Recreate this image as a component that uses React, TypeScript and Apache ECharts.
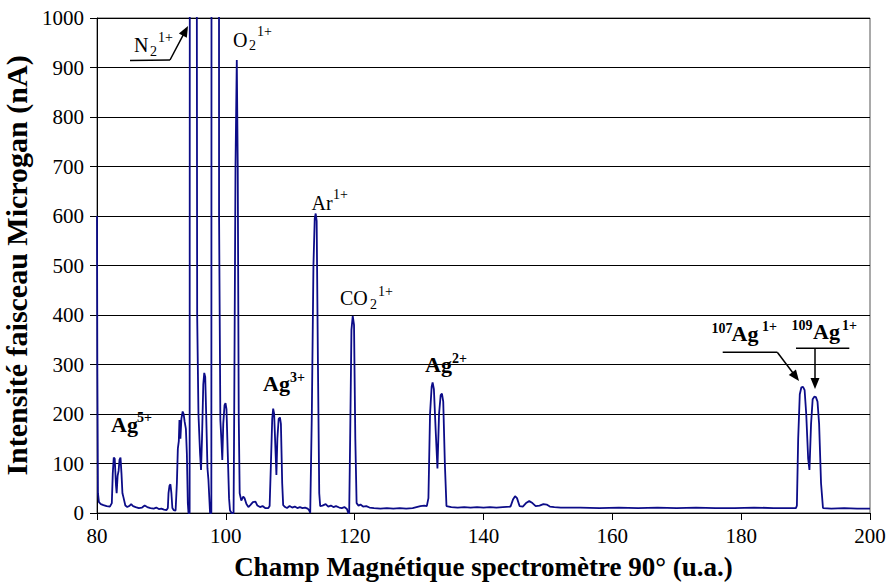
import React, { useEffect, useRef } from 'react';
import * as echarts from 'echarts';

// Spectrum segments: [field (u.a.), intensity (nA)]
const startAndAg5: number[][] = [
  [80.0, 600], [80.05, 300], [80.15, 40], [80.3, 22], [80.6, 18], [81.0, 16], [81.5, 14], [82.0, 13],
  [82.3, 20], [82.45, 80], [82.6, 112], [82.75, 110], [82.95, 55], [83.05, 40], [83.2, 75], [83.35, 85],
  [83.5, 108], [83.65, 112], [83.8, 80], [83.95, 40], [84.1, 32], [84.4, 15], [84.7, 12], [85.0, 14],
  [85.3, 18], [85.6, 14], [86.0, 12], [86.5, 10], [87.0, 11], [87.4, 15], [87.8, 12], [88.3, 10],
  [88.8, 9], [89.2, 11], [89.6, 8], [90.0, 9], [90.4, 7], [90.8, 6],
];
const beforeN2: number[][] = [
  [91.0, 10], [91.1, 40], [91.25, 55], [91.4, 58], [91.55, 40], [91.7, 10], [91.9, 6], [92.2, 5],
  [92.4, 60], [92.55, 130], [92.7, 145], [92.8, 188], [92.95, 150], [93.1, 190], [93.3, 205], [93.45, 200],
  [93.6, 185], [93.8, 170], [93.95, 120], [94.1, 20], [94.2, 0], [94.38, 0],
];
const n2Peaks: number[][] = [
  [94.45, 3000], [95.45, 3000], [95.5, 1000], [95.55, 400], [95.75, 200], [96.0, 120], [96.15, 87],
  [96.3, 150], [96.5, 260], [96.65, 283], [96.8, 275], [96.95, 200], [97.15, 90], [97.3, 67], [97.4, 40],
  [97.55, 0], [97.75, 0], [97.82, 3000], [98.9, 3000], [98.95, 600], [99.15, 188], [99.3, 150],
  [99.45, 107], [99.6, 180], [99.8, 218], [99.95, 222], [100.1, 210], [100.3, 120], [100.5, 30],
  [100.65, 5], [100.9, 0], [101.2, 0],
];
const o2Peak: number[][] = [
  [101.3, 200], [101.5, 700], [101.7, 915], [101.85, 700], [102.0, 200], [102.15, 40], [102.4, 25],
  [102.7, 33], [102.9, 30], [103.2, 18], [103.5, 12], [103.8, 16], [104.2, 22], [104.6, 23], [104.9, 15],
  [105.3, 12], [105.7, 14], [106.1, 10], [106.6, 10], [106.8, 14],
];
const ag3Peaks: number[][] = [
  [107.0, 100], [107.2, 190], [107.35, 211], [107.5, 200], [107.7, 130], [107.85, 77], [108.0, 150],
  [108.2, 190], [108.4, 193], [108.55, 180], [108.75, 60], [108.9, 16], [109.2, 12], [109.5, 10],
  [109.9, 14], [110.3, 11], [110.7, 13], [111.1, 10], [111.5, 12], [111.9, 10], [112.3, 11], [112.7, 9],
  [112.95, 5], [113.1, 0],
];
const arPeak: number[][] = [
  [113.35, 200], [113.6, 500], [113.8, 595], [113.95, 605], [114.1, 590], [114.3, 300], [114.5, 40],
  [114.65, 14], [115.0, 15], [115.5, 18], [115.9, 13], [116.3, 15], [116.7, 12], [117.1, 14], [117.6, 11],
  [118.0, 10], [118.4, 12], [118.8, 8], [119.0, 0], [119.15, 0],
];
const co2Peak: number[][] = [
  [119.3, 150], [119.5, 370], [119.7, 398], [119.9, 380], [120.1, 150], [120.3, 20], [120.6, 15],
  [120.9, 17], [121.3, 13], [121.8, 14], [122.3, 11], [123, 10], [124, 9], [125, 10], [126, 9], [127, 10],
  [128, 9], [129, 10], [130.2, 14], [130.8, 15], [131.2, 14],
];
const ag2Peaks: number[][] = [
  [131.45, 30], [131.7, 200], [131.95, 255], [132.1, 264], [132.3, 250], [132.6, 160], [132.85, 90],
  [133.1, 200], [133.35, 238], [133.55, 241], [133.75, 225], [134.0, 100], [134.25, 14], [135, 12],
  [136, 11], [137, 12], [138, 11], [139, 12], [140, 11], [141, 12], [142, 11], [143, 12], [144.2, 13],
  [144.6, 28], [144.9, 34], [145.2, 30], [145.6, 14], [146.1, 13], [146.6, 20], [147.1, 24], [147.6, 20],
  [148.1, 14], [148.7, 15], [149.3, 18], [149.8, 17], [150.3, 13], [151, 12], [152, 11], [155, 11],
  [158, 10], [161, 11], [164, 10], [167, 11], [170, 10], [173, 11], [176, 10], [179, 10], [182, 11],
  [185, 10], [188.5, 10],
];
const ag1Peaks: number[][] = [
  [188.65, 15], [188.85, 150], [189.1, 240], [189.35, 254], [189.6, 255], [189.85, 248], [190.1, 200],
  [190.4, 110], [190.6, 87], [190.85, 180], [191.1, 230], [191.35, 235], [191.6, 234], [191.85, 225],
  [192.1, 180], [192.4, 60], [192.7, 10], [194, 9], [196, 10], [198, 9], [200, 9],
];

const spectrum = [
  ...startAndAg5, ...beforeN2, ...n2Peaks, ...o2Peak, ...ag3Peaks, ...arPeak, ...co2Peak, ...ag2Peaks, ...ag1Peaks,
];

const FONT = 'Liberation Serif';

function txt(text: string, x: number, y: number, size: number, bold = false) {
  return {
    type: 'text',
    z: 100,
    style: {
      text,
      x,
      y,
      font: `${bold ? 'bold ' : ''}${size}px ${FONT}`,
      fill: '#000',
      align: 'left',
      verticalAlign: 'middle',
      textAlign: 'left',
      textVerticalAlign: 'middle',
    },
  };
}

function seg(x1: number, y1: number, x2: number, y2: number) {
  return {
    type: 'line',
    z: 100,
    shape: { x1, y1, x2, y2 },
    style: { stroke: '#000', lineWidth: 1.5 },
  };
}

function arrow(x1: number, y1: number, x2: number, y2: number) {
  const dx = x2 - x1;
  const dy = y2 - y1;
  const len = Math.sqrt(dx * dx + dy * dy);
  const ux = dx / len;
  const uy = dy / len;
  const hl = 11;
  const hw = 4.5;
  const bx = x2 - ux * hl;
  const by = y2 - uy * hl;
  return [
    seg(x1, y1, bx + ux * 2, by + uy * 2),
    {
      type: 'polygon',
      z: 100,
      shape: {
        points: [
          [x2, y2],
          [bx - uy * hw, by + ux * hw],
          [bx + uy * hw, by - ux * hw],
        ],
      },
      style: { fill: '#000' },
    },
  ];
}

export default function App() {
  const ref = useRef<HTMLDivElement>(null);
  useEffect(() => {
    if (!ref.current) return;
    const chart = echarts.init(ref.current, null, { renderer: 'svg' });
    const graphics: any[] = [
      txt('N', 134, 45, 20), txt('2', 150, 51, 14), txt('1+', 158, 37.5, 14),
      seg(130, 60.5, 170, 60), ...arrow(170, 60, 188, 26),
      txt('O', 233, 39.5, 20), txt('2', 249, 45, 14), txt('1+', 257, 31, 14),
      txt('Ar', 311.5, 202.5, 20), txt('1+', 333, 194, 14),
      txt('CO', 340, 298, 20), txt('2', 370, 304, 14), txt('1+', 378, 291, 14),
      txt('Ag', 263, 383, 22, true), txt('3+', 290, 377, 14, true),
      txt('Ag', 425, 364, 22, true), txt('2+', 452, 358, 14, true),
      txt('Ag', 111, 424, 22, true), txt('5+', 137, 417.5, 14, true),
      txt('107', 711.5, 328, 14, true), txt('Ag', 731.5, 333, 22, true), txt('1+', 762, 326.5, 14, true),
      seg(722.7, 352.3, 777.3, 352.3), ...arrow(777.3, 352.3, 799, 381),
      txt('109', 791.5, 325, 14, true), txt('Ag', 813, 331, 22, true), txt('1+', 842, 325, 14, true),
      seg(796, 348.3, 849.3, 348.3), ...arrow(815, 348.3, 815, 389),
    ];
    chart.setOption({
      animation: false,
      backgroundColor: '#fff',
      grid: {
        left: 97, right: 20, top: 18, bottom: 71,
        outerBoundsMode: 'none',
        containLabel: false,
        show: true, borderColor: '#555', borderWidth: 1, backgroundColor: 'transparent',
      },
      xAxis: {
        type: 'value',
        min: 80,
        max: 200,
        interval: 20,
        name: 'Champ Magnétique spectromètre 90° (u.a.)',
        nameLocation: 'middle',
        nameGap: 40,
        nameTextStyle: { fontFamily: FONT, fontWeight: 'bold', fontSize: 27, color: '#000' },
        axisLine: { show: true, onZero: false, lineStyle: { color: '#000', width: 1 } },
        axisTick: { show: true, inside: false, length: 7, lineStyle: { color: '#000' } },
        axisLabel: { fontFamily: FONT, fontSize: 21, color: '#000', margin: 12, formatter: (v: number) => String(v) },
        splitLine: { show: false },
      },
      yAxis: {
        type: 'value',
        min: 0,
        max: 1000,
        interval: 100,
        name: 'Intensité faisceau Microgan (nA)',
        nameLocation: 'middle',
        nameGap: 51,
        nameTextStyle: { fontFamily: FONT, fontWeight: 'bold', fontSize: 30, color: '#000' },
        axisLine: { show: true, lineStyle: { color: '#000', width: 1 } },
        axisTick: { show: true, inside: false, length: 7, lineStyle: { color: '#000' } },
        axisLabel: { fontFamily: FONT, fontSize: 21, color: '#000', margin: 13, formatter: (v: number) => String(v) },
        splitLine: { show: true, lineStyle: { color: '#000', width: 1 } },
      },
      series: [
        {
          type: 'line',
          data: spectrum,
          showSymbol: false,
          symbol: 'none',
          clip: true,
          lineStyle: { color: '#0c0c88', width: 1.8 },
          z: 10,
        },
      ],
      graphic: graphics,
    });
    return () => chart.dispose();
  }, []);
  return (
    <div
      ref={ref}
      style={{ position: 'fixed', left: 0, top: 0, width: 890, height: 584, background: '#fff' }}
    />
  );
}
